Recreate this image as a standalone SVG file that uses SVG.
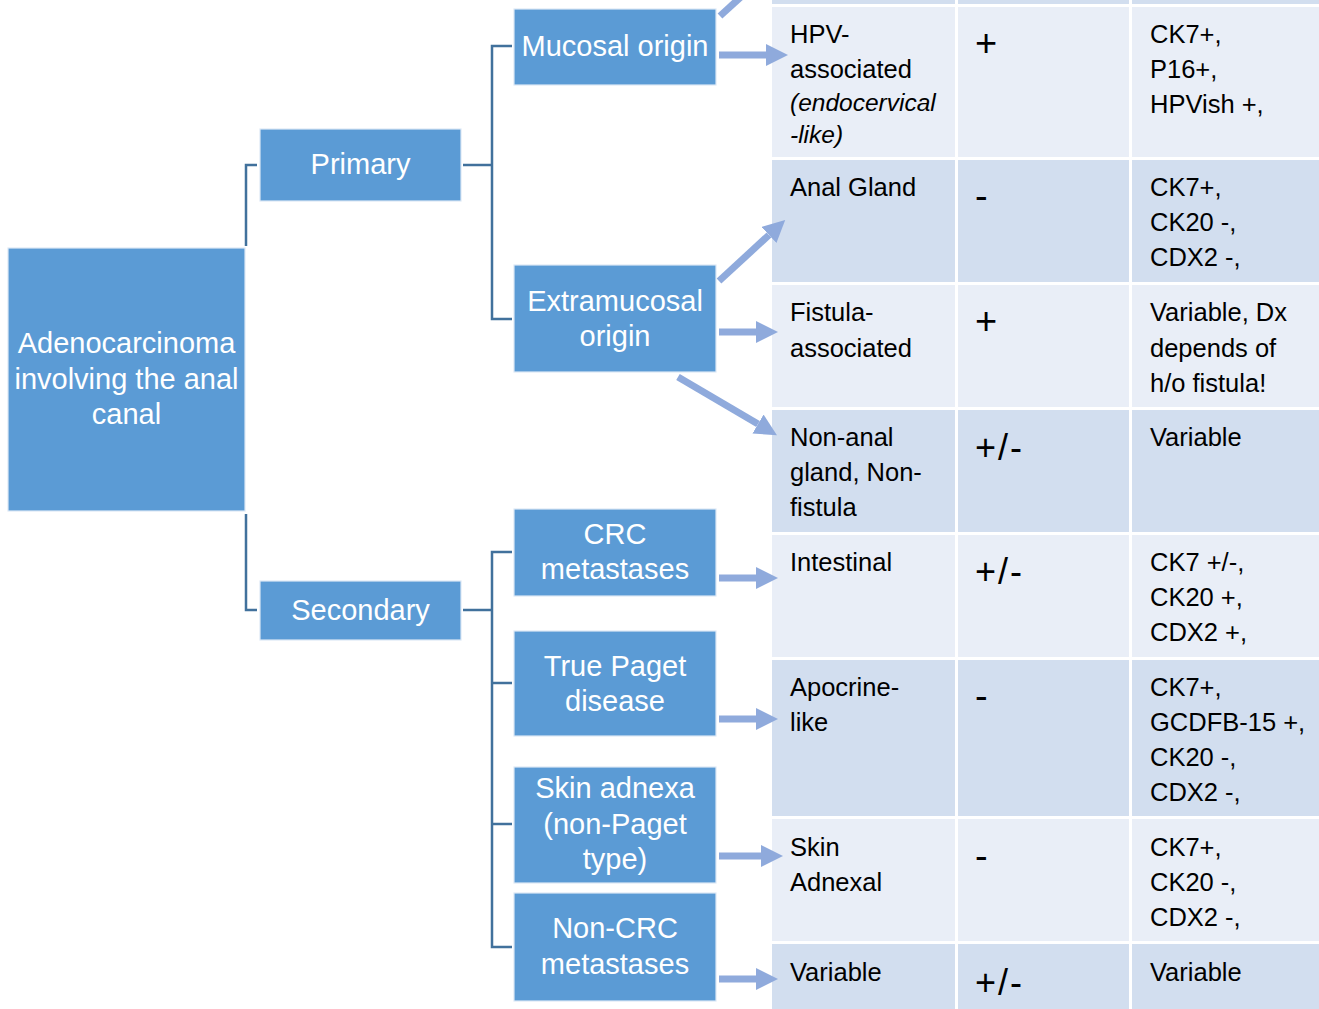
<svg xmlns="http://www.w3.org/2000/svg" width="1319" height="1009" viewBox="0 0 1319 1009">
<defs>
<style>
.node rect{fill:#5B9BD5;stroke:#DDE8F5;stroke-width:1.2}
.node text{fill:#ffffff;font-family:"Liberation Sans",Arial,sans-serif;font-size:29px;text-anchor:middle}
.bracket{fill:none;stroke:#41719C;stroke-width:2.5}
.arrow{stroke:#8FAADC;stroke-width:7;fill:none}
.dark{fill:#D2DEEF}
.light{fill:#E9EEF7}
.cell{fill:#000;font-family:"Liberation Sans",Arial,sans-serif;font-size:25.5px}
.it{font-style:italic;font-size:24.5px}
.sym{fill:#000;font-family:"Liberation Sans",Arial,sans-serif;font-size:38px}
.pm{fill:#000;font-family:"Liberation Sans",Arial,sans-serif;font-size:36px;letter-spacing:2px}
</style>
<marker id="ah" markerUnits="userSpaceOnUse" markerWidth="24" markerHeight="24" refX="0" refY="11" orient="auto" viewBox="0 0 24 24">
<path d="M0,0 L22,11 L0,22 Z" fill="#8FAADC"/>
</marker>
</defs>
<rect width="1319" height="1009" fill="#ffffff"/>

<g id="table">
<rect class="dark" x="772" y="0" width="547" height="4"/>
<rect class="light" x="772" y="7" width="547" height="150"/>
<rect class="dark" x="772" y="160" width="547" height="122"/>
<rect class="light" x="772" y="285" width="547" height="122"/>
<rect class="dark" x="772" y="410" width="547" height="122"/>
<rect class="light" x="772" y="535" width="547" height="122"/>
<rect class="dark" x="772" y="660" width="547" height="156"/>
<rect class="light" x="772" y="819" width="547" height="122"/>
<rect class="dark" x="772" y="944" width="547" height="65"/>
<line x1="956.5" y1="0" x2="956.5" y2="1009" stroke="#ffffff" stroke-width="3"/>
<line x1="1130.5" y1="0" x2="1130.5" y2="1009" stroke="#ffffff" stroke-width="3"/>

<g id="row-hpv">
<text class="cell" x="790" y="43">HPV-</text>
<text class="cell" x="790" y="78">associated</text>
<text class="cell it" x="790" y="111">(endocervical</text>
<text class="cell it" x="790" y="143">-like)</text>
<text class="sym" x="975" y="56">+</text>
<text class="cell" x="1150" y="43">CK7+,</text>
<text class="cell" x="1150" y="78">P16+,</text>
<text class="cell" x="1150" y="113">HPVish +,</text>
</g>
<g id="row-anal">
<text class="cell" x="790" y="196">Anal Gland</text>
<text class="sym" x="975" y="209">-</text>
<text class="cell" x="1150" y="196">CK7+,</text>
<text class="cell" x="1150" y="231">CK20 -,</text>
<text class="cell" x="1150" y="266">CDX2 -,</text>
</g>
<g id="row-fistula">
<text class="cell" x="790" y="321">Fistula-</text>
<text class="cell" x="790" y="357">associated</text>
<text class="sym" x="975" y="334">+</text>
<text class="cell" x="1150" y="321">Variable, Dx</text>
<text class="cell" x="1150" y="357">depends of</text>
<text class="cell" x="1150" y="392">h/o fistula!</text>
</g>
<g id="row-nonanal">
<text class="cell" x="790" y="446">Non-anal</text>
<text class="cell" x="790" y="481">gland, Non-</text>
<text class="cell" x="790" y="516">fistula</text>
<text class="pm" x="975" y="460">+/-</text>
<text class="cell" x="1150" y="446">Variable</text>
</g>
<g id="row-intestinal">
<text class="cell" x="790" y="571">Intestinal</text>
<text class="pm" x="975" y="584">+/-</text>
<text class="cell" x="1150" y="571">CK7 +/-,</text>
<text class="cell" x="1150" y="606">CK20 +,</text>
<text class="cell" x="1150" y="641">CDX2 +,</text>
</g>
<g id="row-apocrine">
<text class="cell" x="790" y="696">Apocrine-</text>
<text class="cell" x="790" y="731">like</text>
<text class="sym" x="975" y="709">-</text>
<text class="cell" x="1150" y="696">CK7+,</text>
<text class="cell" x="1150" y="731">GCDFB-15 +,</text>
<text class="cell" x="1150" y="766">CK20 -,</text>
<text class="cell" x="1150" y="801">CDX2 -,</text>
</g>
<g id="row-skin">
<text class="cell" x="790" y="856">Skin</text>
<text class="cell" x="790" y="891">Adnexal</text>
<text class="sym" x="975" y="869">-</text>
<text class="cell" x="1150" y="856">CK7+,</text>
<text class="cell" x="1150" y="891">CK20 -,</text>
<text class="cell" x="1150" y="926">CDX2 -,</text>
</g>
<g id="row-variable">
<text class="cell" x="790" y="981">Variable</text>
<text class="pm" x="975" y="995">+/-</text>
<text class="cell" x="1150" y="981">Variable</text>
</g>
</g>

<g id="connectors">
<polyline class="bracket" points="257,165 246,165 246,246"/>
<polyline class="bracket" points="257,610 246,610 246,514"/>
<polyline class="bracket" points="463,165 492,165"/>
<polyline class="bracket" points="512,46 492,46 492,319 512,319"/>
<polyline class="bracket" points="463,610 492,610"/>
<polyline class="bracket" points="512,552 492,552 492,947 512,947"/>
<line class="bracket" x1="492" y1="683" x2="512" y2="683"/>
<line class="bracket" x1="492" y1="824" x2="512" y2="824"/>
<line class="arrow" x1="720" y1="16" x2="765" y2="-25"/>
<line class="arrow" x1="719" y1="55" x2="766" y2="55" marker-end="url(#ah)"/>
<line class="arrow" x1="719" y1="281" x2="769" y2="235" marker-end="url(#ah)"/>
<line class="arrow" x1="719" y1="332" x2="756" y2="332" marker-end="url(#ah)"/>
<line class="arrow" x1="678" y1="377" x2="758" y2="424" marker-end="url(#ah)"/>
<line class="arrow" x1="719" y1="578" x2="756" y2="578" marker-end="url(#ah)"/>
<line class="arrow" x1="719" y1="719" x2="756" y2="719" marker-end="url(#ah)"/>
<line class="arrow" x1="719" y1="856" x2="761" y2="856" marker-end="url(#ah)"/>
<line class="arrow" x1="719" y1="979" x2="756" y2="979" marker-end="url(#ah)"/>
</g>

<g id="node-main" class="node">
<rect x="8" y="248" width="237" height="263"/>
<text x="126.5" y="353">Adenocarcinoma</text>
<text x="126.5" y="389">involving the anal</text>
<text x="126.5" y="424">canal</text>
</g>
<g id="node-primary" class="node">
<rect x="260" y="129" width="201" height="72"/>
<text x="360.5" y="174">Primary</text>
</g>
<g id="node-secondary" class="node">
<rect x="260" y="581" width="201" height="59"/>
<text x="360.5" y="620">Secondary</text>
</g>
<g id="node-mucosal" class="node">
<rect x="514" y="9" width="202" height="76"/>
<text x="615" y="56">Mucosal origin</text>
</g>
<g id="node-extramucosal" class="node">
<rect x="514" y="265" width="202" height="107"/>
<text x="615" y="311">Extramucosal</text>
<text x="615" y="346">origin</text>
</g>
<g id="node-crc" class="node">
<rect x="514" y="509" width="202" height="87"/>
<text x="615" y="544">CRC</text>
<text x="615" y="579">metastases</text>
</g>
<g id="node-paget" class="node">
<rect x="514" y="631" width="202" height="105"/>
<text x="615" y="676">True Paget</text>
<text x="615" y="711">disease</text>
</g>
<g id="node-skin" class="node">
<rect x="514" y="767" width="202" height="116"/>
<text x="615" y="798">Skin adnexa</text>
<text x="615" y="834">(non-Paget</text>
<text x="615" y="869">type)</text>
</g>
<g id="node-noncrc" class="node">
<rect x="514" y="893" width="202" height="108"/>
<text x="615" y="938">Non-CRC</text>
<text x="615" y="974">metastases</text>
</g>
</svg>
